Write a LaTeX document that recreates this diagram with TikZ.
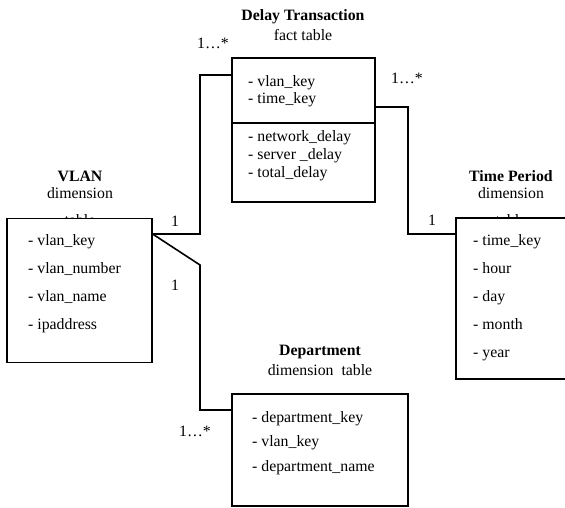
\documentclass[tikz,border=0pt]{standalone}
\usepackage{fontspec}
\setmainfont{Liberation Serif}
\usetikzlibrary{positioning}

\begin{document}
\begin{tikzpicture}[x=1pt, y=-1pt, font=\fontsize{15.8}{18}\selectfont,
  tablebox/.style={draw, fill=white, line width=1.2pt, rectangle, inner sep=0pt},
  link/.style={line width=1.6pt},
  field/.style={anchor=base west, inner sep=0pt},
  title/.style={inner sep=0pt, font=\fontsize{15.8}{18}\selectfont\bfseries},
  sub/.style={inner sep=0pt},
  card/.style={inner sep=0pt}]
  \useasboundingbox (0,0) rectangle (565,508);

  % headings; the last line of the two side ones runs under the box
  \node[title] (facttitle) at (303,17) {Delay Transaction};
  \node[sub] (factsub) at (303,35) {fact table};
  \node[title] (vlantitle) at (80,176) {VLAN};
  \node[sub] (vlansub) at (80,193) {dimension};
  \node[sub, anchor=base] (vlantab) at (80,225) {table};
  \node[title] (timetitle) at (511,176) {Time Period};
  \node[sub] (timesub) at (511,193) {dimension};
  \node[sub, anchor=base] (timetab) at (511,225) {table};
  \node[title] (depttitle) at (320,352) {Department};
  \node[sub] (deptsub) at (320,370) {dimension~ table};

  % tables
  \node[tablebox, minimum width=145, minimum height=144] (vlan) at (79.5,290.5) {};
  \node[tablebox, minimum width=143, minimum height=144] (delay) at (303.5,130) {};
  \node[tablebox, minimum width=114, minimum height=161] (time) at (513,298.5) {};
  \node[tablebox, minimum width=176, minimum height=112] (dept) at (320,450) {};
  \draw[line width=1.2pt] (delay.west |- 0,123) -- (delay.east |- 0,123);

  \foreach \f [count=\i] in {vlan\_key, vlan\_number, vlan\_name, ipaddress}
    \node[field] (vlanf\i) at (28,217+28*\i) {- \f};
  \node[field] (delayk1) at (248,87) {- vlan\_key};
  \node[field] (delayk2) at (248,104) {- time\_key};
  \foreach \f [count=\i] in {network\_delay, server \_delay, total\_delay}
    \node[field] (delayf\i) at (248,124+18*\i) {- \f};
  \foreach \f [count=\i] in {time\_key, hour, day, month, year}
    \node[field] (timef\i) at (473,217+28*\i) {- \f};
  \foreach \f [count=\i] in {department\_key, vlan\_key, department\_name}
    \node[field] (deptf\i) at (252,397.5+24.5*\i) {- \f};

  % relations
  \coordinate (hub) at (vlan.north east |- 0,234);
  \draw[link] (hub) -| (200,75) -- (delay.west |- 0,75);
  \draw[link] (delay.east |- 0,107) -| (408,234) -- (time.west |- 0,234);
  \draw[link] (hub) -- (200,265) -- (200,410) -- (dept.west |- 0,410);

  % cardinalities
  \node[card] (c1) at (175,221) {1};
  \node[card] (c2) at (213,43) {1…*};
  \node[card] (c3) at (407,78) {1…*};
  \node[card] (c4) at (432,220) {1};
  \node[card] (c5) at (175,285) {1};
  \node[card] (c6) at (195,431) {1…*};
\end{tikzpicture}
\end{document}
